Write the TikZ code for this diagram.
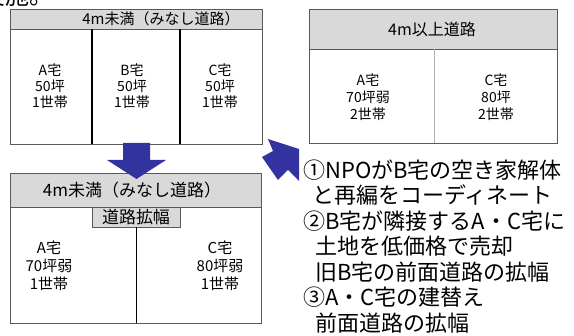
\documentclass[tikz,border=0pt]{standalone}
\usepackage{fontspec}
\setmainfont{Noto Sans CJK JP}
\definecolor{hdrgray}{RGB}{217,217,217}
\definecolor{arrowblue}{RGB}{51,51,160}
\tikzset{
  frame/.style={draw=black!65, line width=0.8pt},
  header/.style={frame, fill=hdrgray},
  cell/.style={align=center, inner sep=0pt, font=\fontsize{14}{16}\selectfont},
  hdrtext/.style={inner sep=0pt, font=\fontsize{15}{15}\selectfont},
  bigarrow/.style={fill=arrowblue},
  note/.style={anchor=west, inner sep=0pt, font=\fontsize{22}{22}\selectfont},
}
\begin{document}
\begin{tikzpicture}[x=1pt,y=-1pt]
        \useasboundingbox (0,0) rectangle (574,336);

        % cut off line from the page above
        \node[anchor=base west, inner sep=0pt, font=\fontsize{24}{24}\selectfont] (cut) at (-19,5) {実施。};

        % before
        \draw[header] (10,9) rectangle (262,29);
        \draw[frame] (10,29) rectangle (262,144);
        \draw[line width=1.2pt] (92,29) -- (92,144);
        \draw[line width=1.2pt] (180,29) -- (180,144);
        \node[hdrtext] (road1) at (161,19) {4m未満（みなし道路）};
        \node[cell] (a1) at (50,86) {A宅\\50坪\\1世帯};
        \node[cell] (b1) at (132,86) {B宅\\50坪\\1世帯};
        \node[cell] (c1) at (220,86) {C宅\\50坪\\1世帯};

        % after, wide road
        \draw[header] (309,9) rectangle (557,49);
        \draw[frame] (309,49) rectangle (557,143);
        \draw[black!30, line width=0.5pt] (434,49) -- (434,143);
        \node[hdrtext, font=\fontsize{16}{16}\selectfont] (road2) at (432,29) {4m以上道路};
        \node[cell, font=\fontsize{14}{17}\selectfont] (a2) at (368,97) {A宅\\70坪弱\\2世帯};
        \node[cell, font=\fontsize{14}{17}\selectfont] (c2) at (496,97) {C宅\\80坪\\2世帯};

        % after, road widened
        \draw[header] (10,173) rectangle (261,207);
        \draw[frame] (10,207) rectangle (261,323);
        \draw[header] (92,207) rectangle (180,227);
        \draw[line width=1pt] (136,227) -- (136,323);
        \node[hdrtext, font=\fontsize{17}{17}\selectfont] (road3) at (132,190) {4m未満（みなし道路）};
        \node[hdrtext, font=\fontsize{17}{17}\selectfont] (widen) at (136,217) {道路拡幅};
        \node[cell, font=\fontsize{15}{18}\selectfont] (a3) at (49,266) {A宅\\70坪弱\\1世帯};
        \node[cell, font=\fontsize{15}{18}\selectfont] (c3) at (220,266) {C宅\\80坪弱\\1世帯};

        % arrows
        \fill[bigarrow] (123,143) -- (150,143) -- (150,160) -- (166,160)
                -- (136.5,179) -- (107,160) -- (123,160) -- cycle;
        \fill[bigarrow] (268,139) -- (299,149) -- (299,181) -- (288,170)
                -- (278,180) -- (262,157) -- (273,151) -- cycle;

        % steps
        \node[note] (s1) at (303,170) {①NPOがB宅の空き家解体};
        \node[note] (s1b) at (312,195.5) {と再編をコーディネート};
        \node[note] (s2) at (303,221) {②B宅が隣接するA・C宅に};
        \node[note] (s2b) at (315,246.5) {土地を低価格で売却};
        \node[note] (s2c) at (315,272) {旧B宅の前面道路の拡幅};
        \node[note] (s3) at (303,297.5) {③A・C宅の建替え};
        \node[note] (s3b) at (315,323) {前面道路の拡幅};
\end{tikzpicture}
\end{document}
